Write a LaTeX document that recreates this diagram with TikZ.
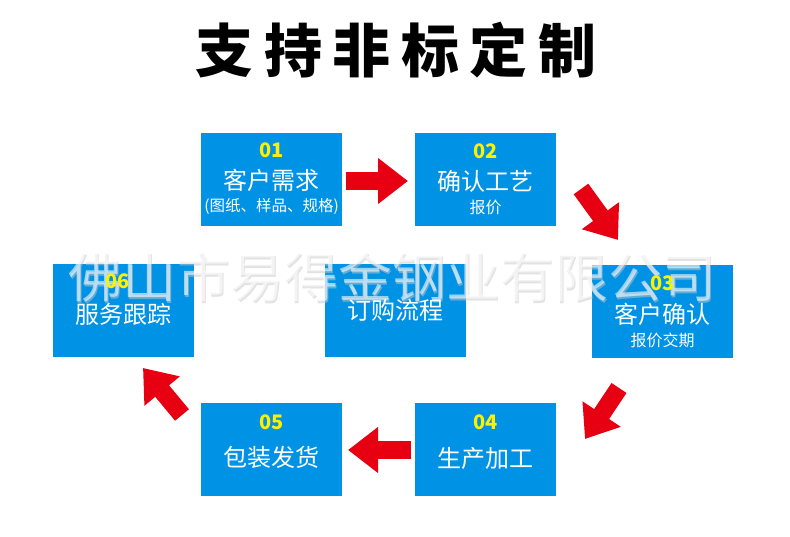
\documentclass[tikz,border=0pt]{standalone}
\usepackage{fontspec}
\newfontfamily\cjk{Noto Sans CJK SC}
\usetikzlibrary{arrows.meta}
\definecolor{boxblue}{RGB}{0,146,229}
\definecolor{arrowred}{RGB}{230,0,18}
\definecolor{numyellow}{RGB}{255,240,0}
\tikzset{
    stepbox/.style={
        fill=boxblue,
        minimum width=141pt,
        minimum height=93pt,
        inner sep=0pt
    },
    stepnum/.style={
        text=numyellow,
        inner sep=0pt,
        font=\cjk\bfseries\fontsize{20}{20}\selectfont
    },
    steptext/.style={
        text=white,
        inner sep=0pt,
        font=\cjk\fontsize{24}{24}\selectfont
    },
    stepsub/.style={
        text=white,
        inner sep=0pt,
        font=\cjk\fontsize{16}{16}\selectfont
    },
    flow arrow/.style={
        arrowred,
        line width=18pt,
        -{Triangle[width=44pt,length=30pt]}
    },
    watermark/.style={
        inner sep=0pt,
        font=\cjk\fontsize{54}{54}\selectfont
    }
}

\begin{document}
\begin{tikzpicture}[x=1pt, y=-1pt]
                \useasboundingbox (0,0) rectangle (790,537);
                \node[inner sep=0pt, font=\cjk\bfseries\fontsize{58}{58}\selectfont\addfontfeature{LetterSpace=18}] (title) at (396,50) {支持非标定制};
                \node[stepbox] (b01) at (271.5,179.5) {};
                \node[stepbox] (b02) at (485.5,179.5) {};
                \node[stepbox] (b03) at (662.5,311.5) {};
                \node[stepbox] (b04) at (485.5,449) {};
                \node[stepbox] (b05) at (271.5,449) {};
                \node[stepbox] (b06) at (123.5,311) {};
                \node[stepbox] (bc) at (395.5,311) {};
                \node[watermark, text=gray!45, opacity=.5] (wm shadow) at (393.5,278.5) {佛山市易得金钢业有限公司};
                \node[watermark, text=white, opacity=.6] (wm) at (392,277) {佛山市易得金钢业有限公司};
                \node[stepnum] (n01) at ([yshift=-17pt]b01.north) {01};
                \node[steptext] (t01) at ([yshift=-48pt]b01.north) {客户需求};
                \node[stepsub, font=\cjk\fontsize{15.5}{15.5}\selectfont] (s01) at ([yshift=-74pt]b01.north) {(图纸、样品、规格)};
                \node[stepnum] (n02) at ([yshift=-18pt]b02.north) {02};
                \node[steptext] (t02) at ([yshift=-49pt]b02.north) {确认工艺};
                \node[stepsub] (s02) at ([yshift=-75pt]b02.north) {报价};
                \node[stepnum] (n03) at ([yshift=-18pt]b03.north) {03};
                \node[steptext] (t03) at ([yshift=-50pt]b03.north) {客户确认};
                \node[stepsub] (s03) at ([yshift=-76pt]b03.north) {报价交期};
                \node[stepnum] (n04) at ([yshift=-20pt]b04.north) {04};
                \node[steptext] (t04) at ([yshift=-56pt]b04.north) {生产加工};
                \node[stepnum] (n05) at ([yshift=-20pt]b05.north) {05};
                \node[steptext] (t05) at ([yshift=-55pt]b05.north) {包装发货};
                \node[stepnum] (n06) at ([xshift=-6pt,yshift=-17pt]b06.north) {06};
                \node[steptext] (t06) at ([yshift=-50pt]b06.north) {服务跟踪};
                \node[steptext] (tc) at ([yshift=1pt]bc.center) {订购流程};
                \coordinate (A1) at (346,181);
                \coordinate (B1) at (408,181);
                \coordinate (A2) at (581,189);
                \coordinate (B2) at (618,240);
                \coordinate (A3) at (619,388);
                \coordinate (B3) at (585,439);
                \coordinate (A4) at (411,450);
                \coordinate (B4) at (348,450);
                \coordinate (A5) at (182,415);
                \coordinate (B5) at (143,368);
                \draw[flow arrow] (A1) -- (B1);
                \draw[flow arrow] (A2) -- (B2);
                \draw[flow arrow] (A3) -- (B3);
                \draw[flow arrow] (A4) -- (B4);
                \draw[flow arrow] (A5) -- (B5);
            \end{tikzpicture}
\end{document}
